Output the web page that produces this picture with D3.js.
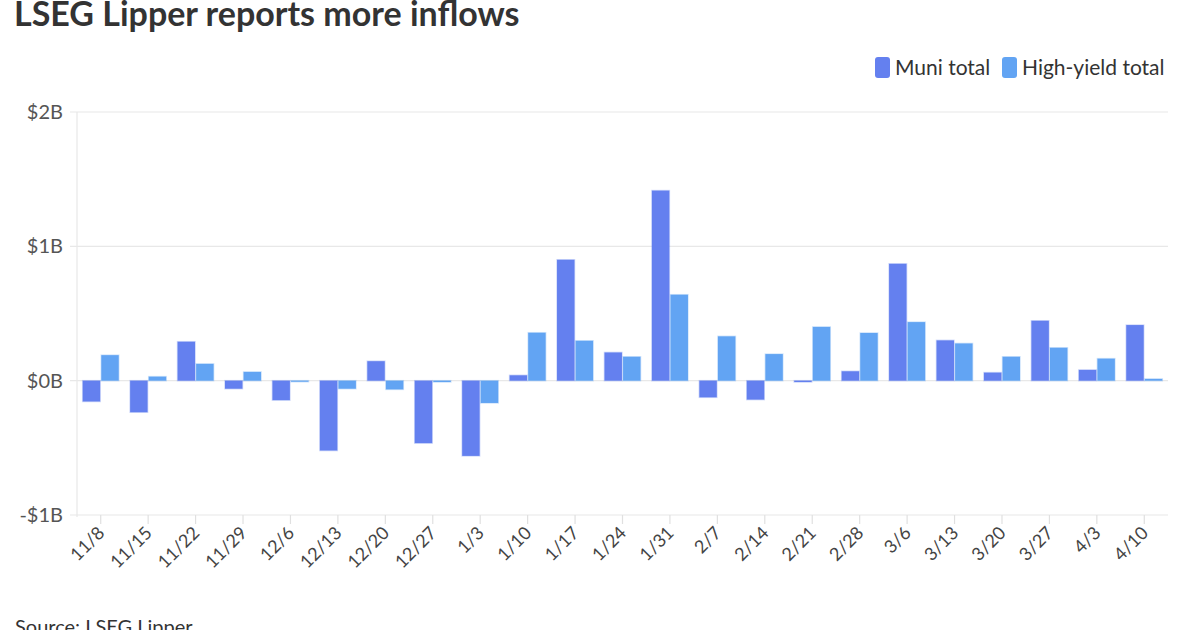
<!DOCTYPE html>
<html>
<head>
<meta charset="utf-8">
<script src="https://cdn.jsdelivr.net/npm/d3@7"></script>
<style>
  body { margin: 0; background: #fff; font-family: Lato, "Noto Sans", sans-serif; }
  svg { display: block; }
</style>
</head>
<body>
<div id="chart"></div>
<script>
const weeks = ['11/8', '11/15', '11/22', '11/29', '12/6', '12/13', '12/20', '12/27', '1/3', '1/10', '1/17', '1/24',
    '1/31', '2/7', '2/14', '2/21', '2/28', '3/6', '3/13', '3/20', '3/27', '4/3', '4/10'];
// billions of dollars
const muniTotal = [-0.155, -0.235, 0.29, -0.06, -0.145, -0.52, 0.145, -0.465, -0.56, 0.04, 0.90, 0.21,
    1.415, -0.124, -0.141, -0.01, 0.07, 0.87, 0.30, 0.06, 0.446, 0.08, 0.414];
const highYieldTotal = [0.19, 0.03, 0.125, 0.065, -0.008, -0.06, -0.065, -0.01, -0.166, 0.357, 0.297, 0.178,
    0.64, 0.33, 0.198, 0.40, 0.355, 0.436, 0.277, 0.178, 0.245, 0.164, 0.013];
const seriesNames = ['Muni total', 'High-yield total'];
const yTicks = [-1, 0, 1, 2];

const colors = ['#6480ef', '#62a4f3'];

const W = 1200, H = 630;
const margin = { top: 112, right: 32, bottom: 115, left: 77 };

const svg = d3.select('#chart').append('svg')
    .attr('width', W)
    .attr('height', H);

svg.append('text')
    .attr('x', 14)
    .attr('y', 26)
    .style('font-size', '34px')
    .style('font-weight', 'bold')
    .style('fill', '#333')
    .text('LSEG Lipper reports more inflows');

const x = d3.scaleBand().domain(weeks).range([margin.left, W - margin.right]).paddingInner(0.24).paddingOuter(0.12);
const xSub = d3.scaleBand().domain(seriesNames).range([0, x.bandwidth()]).paddingInner(0.06);
const y = d3.scaleLinear().domain([-1, 2]).range([H - margin.bottom, margin.top]);

// grid
svg.append('g')
    .selectAll('line')
    .data(yTicks)
    .enter().append('line')
    .attr('x1', 70)
    .attr('x2', W - margin.right)
    .attr('y1', d => y(d))
    .attr('y2', d => y(d))
    .style('stroke', '#e8e8e8')
    .style('stroke-width', 1.2);

svg.append('line')
    .attr('x1', margin.left).attr('x2', margin.left)
    .attr('y1', y(2)).attr('y2', y(-1) + 2)
    .style('stroke', '#e8e8e8')
    .style('stroke-width', 1.2);

svg.append('g')
    .selectAll('text')
    .data(yTicks)
    .enter().append('text')
    .attr('x', 63)
    .attr('y', d => y(d))
    .attr('dy', '0.35em')
    .style('text-anchor', 'end')
    .style('font-size', '20px')
    .style('fill', '#555')
    .text(d => (d < 0 ? '-' : '') + '$' + Math.abs(d) + 'B');

// bars
const rows = weeks.map((w, i) => ({ week: w, values: [muniTotal[i], highYieldTotal[i]] }));

const group = svg.append('g')
    .selectAll('g')
    .data(rows)
    .enter().append('g')
    .attr('transform', d => 'translate(' + x(d.week) + ',0)');

group.selectAll('rect')
    .data(d => d.values.map((v, k) => ({ name: seriesNames[k], value: v, k: k })))
    .enter().append('rect')
    .attr('x', d => xSub(d.name))
    .attr('width', xSub.bandwidth())
    .attr('y', d => y(Math.max(0, d.value)))
    .attr('height', d => Math.max(1, Math.abs(y(d.value) - y(0))))
    .style('fill', d => colors[d.k])
    .style('stroke', d => colors[d.k])
    .style('stroke-opacity', 0.3)
    .style('stroke-width', 1.5);

// x axis ticks and labels
const xAxis = svg.append('g');
xAxis.selectAll('line')
    .data(weeks)
    .enter().append('line')
    .attr('x1', d => x(d) + x.bandwidth() / 2)
    .attr('x2', d => x(d) + x.bandwidth() / 2)
    .attr('y1', y(-1))
    .attr('y2', y(-1) + 9)
    .style('stroke', '#e0e0e0')
    .style('stroke-width', 1.2);

xAxis.selectAll('text')
    .data(weeks)
    .enter().append('text')
    .attr('transform', d => 'translate(' + (x(d) + x.bandwidth() / 2 + 5) + ',' + (y(-1) + 19) + ') rotate(-45)')
    .style('text-anchor', 'end')
    .style('font-size', '18px')
    .style('fill', '#444')
    .text(d => d);

// legend
const legend = svg.append('g').attr('transform', 'translate(875,57)');
const legendX = [0, 127];
seriesNames.forEach((name, k) => {
    const item = legend.append('g').attr('transform', 'translate(' + legendX[k] + ',0)');
    item.append('rect')
        .attr('width', 15)
        .attr('height', 21)
        .attr('rx', 3)
        .style('fill', colors[k]);
    item.append('text')
        .attr('x', 20)
        .attr('y', 18)
        .style('font-size', '21px')
        .style('fill', '#333')
        .text(name);
});

svg.append('text')
    .attr('x', 15)
    .attr('y', 634)
    .style('font-size', '20px')
    .style('fill', '#333')
    .text('Source: LSEG Lipper');
</script>
</body>
</html>
